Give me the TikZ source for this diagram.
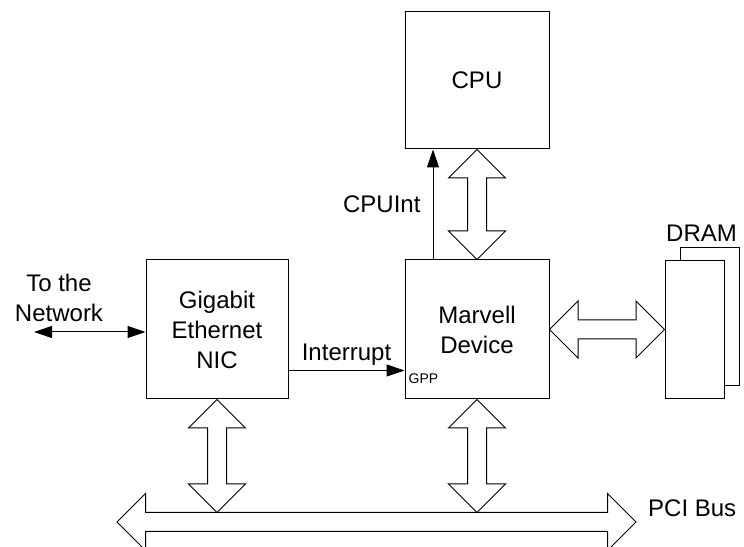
\documentclass[tikz,border=0pt]{standalone}
\usepackage{fontspec}
\setmainfont{Liberation Sans}
\usetikzlibrary{positioning, calc, arrows.meta}

\newcommand{\busarrow}[2]{%
  \draw[bus] (#1)
    -- ($(#1)!28.5pt!(#2)!28.5pt!90:(#2)$)
    -- ($(#1)!28.5pt!(#2)!9.5pt!90:(#2)$)
    -- ($(#2)!28.5pt!(#1)!9.5pt!-90:(#1)$)
    -- ($(#2)!28.5pt!(#1)!28.5pt!-90:(#1)$)
    -- (#2)
    -- ($(#2)!28.5pt!(#1)!28.5pt!90:(#1)$)
    -- ($(#2)!28.5pt!(#1)!9.5pt!90:(#1)$)
    -- ($(#1)!28.5pt!(#2)!9.5pt!-90:(#2)$)
    -- ($(#1)!28.5pt!(#2)!28.5pt!-90:(#2)$)
    -- cycle;}

\begin{document}
\begin{tikzpicture}[x=1pt, y=1pt,
      box/.style={draw, line width=1pt, fill=white, align=center, font=\fontsize{24}{30}\selectfont},
      lbl/.style={inner sep=0pt, align=center, font=\fontsize{24}{30}\selectfont},
      small/.style={inner sep=0pt, font=\fontsize{14}{16}\selectfont},
      bus/.style={draw, line width=1pt, fill=white, line join=miter},
      sig/.style={line width=1pt, -{Triangle[length=18pt, width=12pt]}},
      sigboth/.style={line width=1pt, {Triangle[length=18pt, width=12pt]}-{Triangle[length=18pt, width=12pt]}}
    ]
      \useasboundingbox (0,0) rectangle (744,546);

      \node[box, minimum width=144pt, minimum height=137pt] (cpu) at (477,465.5) {CPU};
      \node[box, minimum width=144pt, minimum height=139pt, below=110pt of cpu] (marvell) {Marvell\\Device};
      \node[box, minimum width=142pt, minimum height=139pt, left=116pt of marvell] (nic) {Gigabit\\Ethernet\\NIC};
      \node[box, minimum width=59pt, minimum height=138pt, right=130pt of marvell, yshift=13pt] (dramback) {};
      \node[box, minimum width=59pt, minimum height=138pt] (dram) at ([xshift=-15pt, yshift=-13pt]dramback.center) {};
      \node[lbl, anchor=base] (dramlbl) at ([xshift=7pt, yshift=18pt]dram.north) {DRAM};

      \coordinate (pcil) at (117,24);
      \coordinate (pcir) at (636,24);
      \coordinate (pcitop) at ([yshift=9.5pt]pcil);
      \coordinate (nicbus) at (nic.south |- pcitop);
      \coordinate (marvbus) at (marvell.south |- pcitop);
      \coordinate (net) at (34,214);

      \busarrow{pcil}{pcir}
      \busarrow{cpu.south}{marvell.north}
      \busarrow{marvell.east}{dram.west}
      \busarrow{nic.south}{nicbus}
      \busarrow{marvell.south}{marvbus}
      \node[lbl, anchor=west] (pcilbl) at ([xshift=12pt, yshift=14pt]pcir) {PCI Bus};

      \draw[sig] ([yshift=-41pt]nic.east) -- ([yshift=-41pt]marvell.west)
        node[lbl, midway, anchor=base, yshift=10pt] {Interrupt};
      \node[small, anchor=base west] (gpp) at ([xshift=4pt, yshift=16pt]marvell.south west) {GPP};
      \draw[sig] ([xshift=-44pt]marvell.north) -- ([xshift=-44pt]cpu.south)
        node[lbl, midway, left=12pt] {CPUInt};
      \draw[sigboth] (net) -- (nic.west |- net);
      \node[lbl, above=10pt of net, xshift=25pt] (netlbl) {To the\\Network};
    \end{tikzpicture}
\end{document}
